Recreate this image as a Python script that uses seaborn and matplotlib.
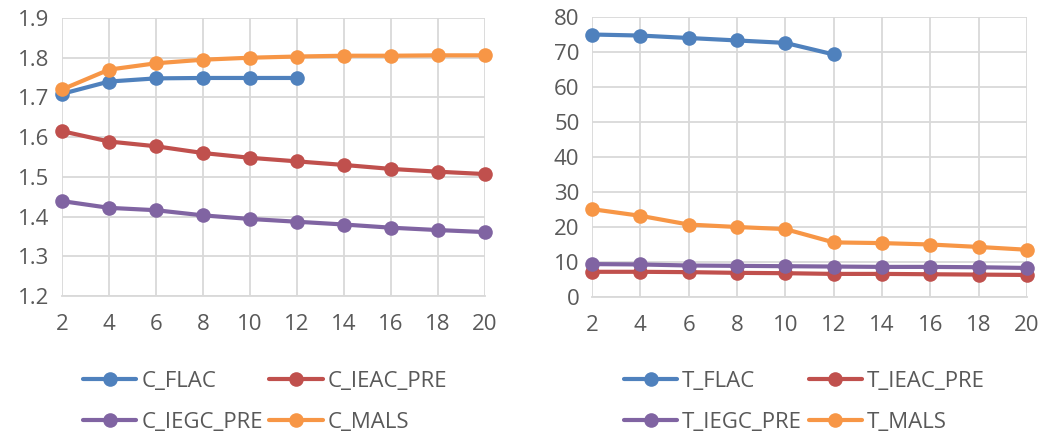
import numpy as np
import pandas as pd
import matplotlib
matplotlib.use("Agg")
import matplotlib.pyplot as plt
import seaborn as sns
from matplotlib.lines import Line2D

x_vals = [2, 4, 6, 8, 10, 12, 14, 16, 18, 20]

c_flac = [1.709, 1.740, 1.748, 1.749, 1.749, 1.749]
c_ieac_pre = [1.615, 1.589, 1.577, 1.560, 1.548, 1.539, 1.530, 1.520, 1.513, 1.507]
c_iegc_pre = [1.439, 1.422, 1.416, 1.403, 1.394, 1.387, 1.380, 1.372, 1.366, 1.361]
c_mals = [1.720, 1.770, 1.786, 1.795, 1.800, 1.803, 1.805, 1.805, 1.806, 1.806]

t_flac = [75.0, 74.7, 74.0, 73.3, 72.6, 69.3]
t_ieac_pre = [7.2, 7.2, 7.1, 6.9, 6.8, 6.6, 6.6, 6.5, 6.4, 6.3]
t_iegc_pre = [9.4, 9.3, 9.0, 8.9, 8.8, 8.7, 8.6, 8.6, 8.5, 8.3]
t_mals = [25.1, 23.2, 20.7, 20.0, 19.4, 15.6, 15.4, 15.0, 14.3, 13.5]

left_names = ["C_FLAC", "C_IEAC_PRE", "C_IEGC_PRE", "C_MALS"]
right_names = ["T_FLAC", "T_IEAC_PRE", "T_IEGC_PRE", "T_MALS"]
colors = ["#4F81BD", "#C0504D", "#8064A2", "#F79646"]

def long_df(names, series):
    rows = []
    for n, s in zip(names, series):
        for xv, yv in zip(x_vals, s):
            rows.append({"x": xv, "y": yv, "series": n})
    return pd.DataFrame(rows)

df_left = long_df(left_names, [c_flac, c_ieac_pre, c_iegc_pre, c_mals])
df_right = long_df(right_names, [t_flac, t_ieac_pre, t_iegc_pre, t_mals])

sns.set_theme(style="white")
plt.rcParams['font.family'] = ['Open Sans', 'DejaVu Sans']

W, H = 1043, 437
fig = plt.figure(figsize=(W / 100, H / 100), dpi=100)
ax1 = fig.add_axes([62 / W, (H - 296) / H, (485 - 62) / W, (296 - 18) / H])
ax2 = fig.add_axes([592 / W, (H - 297) / H, (1027 - 592) / W, (297 - 17) / H])

grid_c = "#D9D9D9"
text_c = "#595959"

def draw(ax, df, names, ylim, yticks, yfmt):
    sns.lineplot(data=df, x="x", y="y", hue="series", hue_order=names,
                 palette=colors, marker="o", markersize=10.5, linewidth=3,
                 markeredgewidth=0, ax=ax, legend=False, sort=False)
    for ln in ax.lines:
        ln.set_clip_on(False)
    ax.set_xlim(2, 20)
    ax.set_ylim(*ylim)
    ax.set_xticks(x_vals)
    ax.set_yticks(yticks)
    ax.set_yticklabels([yfmt(v) for v in yticks])
    ax.grid(True, color=grid_c, linewidth=1.3)
    ax.set_axisbelow(True)
    for s in ax.spines.values():
        s.set_visible(False)
    ax.spines["bottom"].set_visible(True)
    ax.spines["bottom"].set_color(grid_c)
    ax.spines["bottom"].set_linewidth(1.3)
    ax.tick_params(axis="both", length=0, labelsize=16, colors=text_c)
    ax.tick_params(axis="x", pad=13)
    ax.tick_params(axis="y", pad=9)
    ax.set_xlabel("")
    ax.set_ylabel("")

draw(ax1, df_left, left_names, (1.2, 1.9), [1.2, 1.3, 1.4, 1.5, 1.6, 1.7, 1.8, 1.9],
     lambda v: f"{v:.1f}")
draw(ax2, df_right, right_names, (0, 80), [0, 10, 20, 30, 40, 50, 60, 70, 80],
     lambda v: f"{int(v)}")

def make_legend(names, anchor):
    handles = [Line2D([0], [0], color=c, marker="o", markersize=10.5, linewidth=3,
                      markeredgewidth=0) for c in colors]
    # row-wise order: matplotlib fills columns first
    idx = [0, 2, 1, 3]
    leg = fig.legend([handles[i] for i in idx], [names[i] for i in idx],
                     loc="upper left", bbox_to_anchor=anchor,
                     ncol=2, frameon=False, fontsize=16, handlelength=2.4,
                     handletextpad=0.22, columnspacing=0.3, labelspacing=0.88,
                     labelcolor=text_c, borderaxespad=0, borderpad=0)
    return leg

make_legend(left_names, (83 / W, 1 - 371 / H))
make_legend(right_names, (624 / W, 1 - 371 / H))

fig.savefig("out.png", dpi=100)
